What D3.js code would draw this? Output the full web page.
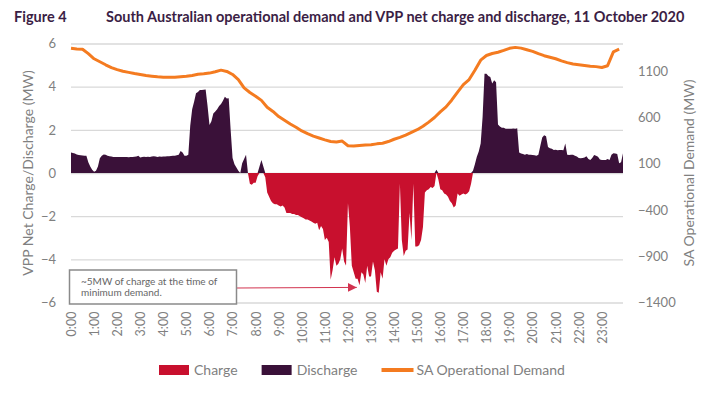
<!DOCTYPE html>
<html>
<head>
<meta charset="utf-8">
<script src="https://cdn.jsdelivr.net/npm/d3@7"></script>
<style>
  body { margin: 0; background: #fff; }
  svg text { font-family: Lato, "Open Sans", sans-serif; }
</style>
</head>
<body>
<svg id="chart" width="725" height="394"></svg>
<script>
// VPP net charge (-) / discharge (+), MW, 5-minute intervals, one row per hour
var vppRows = [
  [0.95, 0.93, 0.9, 0.86, 0.83, 0.82, 0.81, 0.8, 0.8, 0.5, 0.3, 0.15],
  [0.06, 0.1, 0.3, 0.68, 0.8, 0.86, 0.84, 0.8, 0.78, 0.76, 0.74, 0.74],
  [0.74, 0.74, 0.74, 0.74, 0.74, 0.74, 0.73, 0.74, 0.74, 0.75, 0.76, 0.8],
  [0.72, 0.74, 0.75, 0.74, 0.75, 0.74, 0.76, 0.78, 0.77, 0.74, 0.76, 0.75],
  [0.76, 0.77, 0.78, 0.78, 0.79, 0.8, 0.8, 0.82, 0.84, 1.02, 0.95, 0.8],
  [0.8, 0.85, 2.2, 2.95, 3.3, 3.7, 3.75, 3.84, 3.85, 3.86, 3.87, 3.1],
  [2.22, 2.4, 2.76, 2.85, 2.95, 3.1, 3.2, 3.35, 3.53, 3.45, 3.46, 2.0],
  [0.7, 0.4, 0.25, 0.1, 0.0, 0.45, 0.65, 0.85, 0.0, -0.5, -0.55, -0.45],
  [-0.45, -0.15, 0.3, 0.6, 0.3, -0.2, -0.9, -1.1, -1.3, -1.4, -1.45, -1.45],
  [-1.5, -1.55, -1.5, -1.6, -1.85, -1.85, -1.85, -1.9, -1.9, -1.95, -1.95, -2.0],
  [-2.05, -2.1, -2.15, -2.15, -2.2, -2.25, -2.3, -2.35, -2.3, -2.65, -2.45, -2.6],
  [-3.1, -3.0, -3.2, -4.95, -4.5, -3.9, -4.3, -4.2, -4.0, -3.5, -4.1, -4.3],
  [-1.4, -2.5, -4.3, -4.6, -4.9, -4.9, -5.2, -4.6, -4.7, -5.1, -4.3, -4.8],
  [-4.8, -4.1, -4.5, -5.5, -5.55, -4.6, -4.9, -4.0, -4.3, -4.0, -3.9, -3.7],
  [-3.6, -3.55, -3.5, -0.5, -3.1, -3.85, -3.6, -3.55, -1.85, -3.1, -0.5, -3.4],
  [-3.4, -3.35, -3.1, -2.5, -0.9, -0.8, -0.75, -0.65, -0.7, -0.6, 0.15, -0.3],
  [-0.75, -0.8, -0.95, -1.0, -1.1, -1.3, -1.4, -1.6, -1.5, -0.95, -1.05, -1.0],
  [-0.95, -1.0, -0.95, -0.85, -0.5, 0.1, 0.4, 0.75, 1.0, 1.37, 2.6, 4.6],
  [4.6, 4.5, 4.45, 4.15, 4.3, 4.2, 2.25, 2.15, 2.1, 2.1, 2.05, 2.05],
  [2.05, 2.05, 2.06, 2.05, 2.07, 0.95, 0.9, 0.88, 0.85, 0.88, 0.84, 0.85],
  [0.83, 0.82, 0.8, 0.85, 1.25, 1.65, 1.75, 1.7, 1.2, 1.15, 1.12, 1.07],
  [1.08, 1.05, 1.06, 1.07, 1.05, 1.37, 0.85, 0.83, 0.84, 0.85, 0.8, 0.76],
  [0.7, 0.68, 0.7, 0.72, 0.78, 0.65, 0.6, 0.7, 0.83, 0.8, 0.75, 0.62],
  [0.6, 0.6, 0.6, 0.65, 0.6, 0.85, 0.92, 0.9, 0.88, 0.45, 0.5, 0.91]
];

// SA operational demand, MW, 15-minute intervals, one row per hour
var demandRows = [
  [1348, 1340, 1338, 1290],
  [1235, 1203, 1170, 1140],
  [1118, 1100, 1088, 1075],
  [1065, 1055, 1047, 1040],
  [1036, 1034, 1035, 1040],
  [1045, 1055, 1068, 1072],
  [1080, 1095, 1112, 1098],
  [1065, 1010, 920, 870],
  [830, 785, 710, 665],
  [610, 570, 530, 495],
  [455, 425, 398, 378],
  [358, 340, 335, 345],
  [295, 292, 298, 303],
  [305, 315, 322, 340],
  [365, 385, 410, 440],
  [468, 505, 550, 600],
  [660, 715, 790, 875],
  [955, 1010, 1110, 1220],
  [1270, 1292, 1305, 1325],
  [1348, 1358, 1350, 1332],
  [1315, 1290, 1268, 1252],
  [1235, 1212, 1193, 1178],
  [1170, 1162, 1155, 1150],
  [1140, 1160, 1310, 1338]
];

var hourLabels = d3.range(24).map(function(h) { return h + ":00"; });
var leftTicks = [-6, -4, -2, 0, 2, 4, 6];
var rightTicks = [-1400, -900, -400, 100, 600, 1100];
var seriesNames = ["Charge", "Discharge", "SA Operational Demand"];

var vpp = d3.merge(vppRows);
var demand = d3.merge(demandRows);

var colors = { charge: "#c8102e", discharge: "#3a1139", demand: "#f47b20", grey: "#808080", grid: "#d9d9d9" };

var svg = d3.select("#chart");
var plotL = 71, plotR = 623, plotT = 43.5, plotB = 302.5;

var x = d3.scaleLinear().domain([0, 1435]).range([plotL, plotR]);   // minutes since midnight
var yL = d3.scaleLinear().domain([-6, 6]).range([plotB, plotT]);
var yR = d3.scaleLinear().domain([-1400, 1400]).range([plotB, plotT]);

// title
svg.append("text").attr("x", 14).attr("y", 22)
  .style("font-weight", "bold").style("font-size", "14.5px").attr("fill", "#3b1e45")
  .text("Figure 4");
svg.append("text").attr("x", 106).attr("y", 22)
  .style("font-weight", "bold").style("font-size", "14.5px").attr("fill", "#3b1e45")
  .text("South Australian operational demand and VPP net charge and discharge, 11 October 2020");

// gridlines
var grid = svg.append("g").attr("transform", "translate(" + plotL + ",0)")
  .call(d3.axisLeft(yL).tickValues(leftTicks).tickSize(-(plotR - plotL)).tickFormat(""));
grid.select(".domain").remove();
grid.selectAll("line").attr("stroke", colors.grid).attr("stroke-width", 1.3);

// areas: charge is the negative part, discharge the positive part
var chargeArea = d3.area()
  .x(function(d, i) { return x(i * 5); })
  .y0(yL(0))
  .y1(function(d) { return yL(Math.min(d, 0)); });
var dischargeArea = d3.area()
  .x(function(d, i) { return x(i * 5); })
  .y0(yL(0))
  .y1(function(d) { return yL(Math.max(d, 0)); });

svg.append("path").datum(vpp).attr("d", chargeArea).attr("fill", colors.charge);
svg.append("path").datum(vpp).attr("d", dischargeArea).attr("fill", colors.discharge);

// demand line
var demandLine = d3.line()
  .x(function(d, i) { return x(i * 15); })
  .y(function(d) { return yR(d); });
svg.append("path").datum(demand).attr("d", demandLine)
  .attr("fill", "none").attr("stroke", colors.demand).attr("stroke-width", 3)
  .attr("stroke-linejoin", "round");

// left axis
var axL = svg.append("g").attr("transform", "translate(" + plotL + ",0)")
  .call(d3.axisLeft(yL).tickValues(leftTicks).tickSize(0).tickPadding(15));
axL.select(".domain").remove();
axL.selectAll("text").attr("fill", colors.grey).style("font-size", "13px");

// right axis
var axR = svg.append("g").attr("transform", "translate(" + plotR + ",0)")
  .call(d3.axisRight(yR).tickValues(rightTicks).tickSize(0).tickPadding(15).tickFormat(d3.format("d")));
axR.select(".domain").remove();
axR.selectAll("text").attr("fill", colors.grey).style("font-size", "13px");

// x axis, rotated hour labels
var axX = svg.append("g").attr("transform", "translate(0," + plotB + ")")
  .call(d3.axisBottom(x).tickValues(d3.range(24).map(function(h) { return h * 60; }))
    .tickFormat(function(d, i) { return hourLabels[i]; }).tickSize(0));
axX.select(".domain").remove();
axX.selectAll("text")
  .attr("transform", "rotate(-90)")
  .attr("x", -9).attr("y", 0).attr("dy", "0.35em")
  .style("text-anchor", "end")
  .attr("fill", colors.grey).style("font-size", "12.5px");

// axis titles
svg.append("text").attr("transform", "translate(28," + ((plotT + plotB) / 2) + ") rotate(-90)")
  .attr("text-anchor", "middle").attr("dy", "0.35em")
  .attr("fill", colors.grey).style("font-size", "14px")
  .text("VPP Net Charge/Discharge (MW)");
svg.append("text").attr("transform", "translate(689," + ((plotT + plotB) / 2) + ") rotate(-90)")
  .attr("text-anchor", "middle").attr("dy", "0.35em")
  .attr("fill", colors.grey).style("font-size", "14px")
  .text("SA Operational Demand (MW)");

// annotation
svg.append("defs").append("marker")
  .attr("id", "arrow").attr("viewBox", "0 0 10 10").attr("refX", 10).attr("refY", 5)
  .attr("markerWidth", 9).attr("markerHeight", 9).attr("markerUnits", "userSpaceOnUse")
  .attr("orient", "auto")
  .append("path").attr("d", "M0,0L10,5L0,10Z").attr("fill", "#d2334f");

svg.append("line")
  .attr("x1", 236).attr("y1", 288)
  .attr("x2", x(12 * 60 + 23)).attr("y2", yL(-5.3))
  .attr("stroke", "#d2334f").attr("stroke-width", 1)
  .attr("marker-end", "url(#arrow)");

svg.append("rect").attr("x", 69.5).attr("y", 270).attr("width", 167).attr("height", 34)
  .attr("fill", "#fff").attr("stroke", "#8a8a8a").attr("stroke-width", 1.5);
var note = svg.append("text").attr("fill", "#666").style("font-size", "10px");
note.append("tspan").attr("x", 81).attr("y", 285).text("~5MW of charge at the time of");
note.append("tspan").attr("x", 81).attr("y", 296).text("minimum demand.");

// legend
var legend = svg.append("g").attr("transform", "translate(159,370)");
var lx = 0;
seriesNames.forEach(function(name, i) {
  if (i < 2) {
    legend.append("rect").attr("x", lx).attr("y", -5).attr("width", 30).attr("height", 10)
      .attr("fill", i == 0 ? colors.charge : colors.discharge);
  } else {
    legend.append("line").attr("x1", lx).attr("x2", lx + 32).attr("y1", 0).attr("y2", 0)
      .attr("stroke", colors.demand).attr("stroke-width", 4);
  }
  var t = legend.append("text").attr("x", lx + 35).attr("y", 0).attr("dy", "0.35em")
    .attr("fill", colors.grey).style("font-size", "14px").text(name);
  lx += 35 + t.node().getComputedTextLength() + 24;
});
</script>
</body>
</html>
